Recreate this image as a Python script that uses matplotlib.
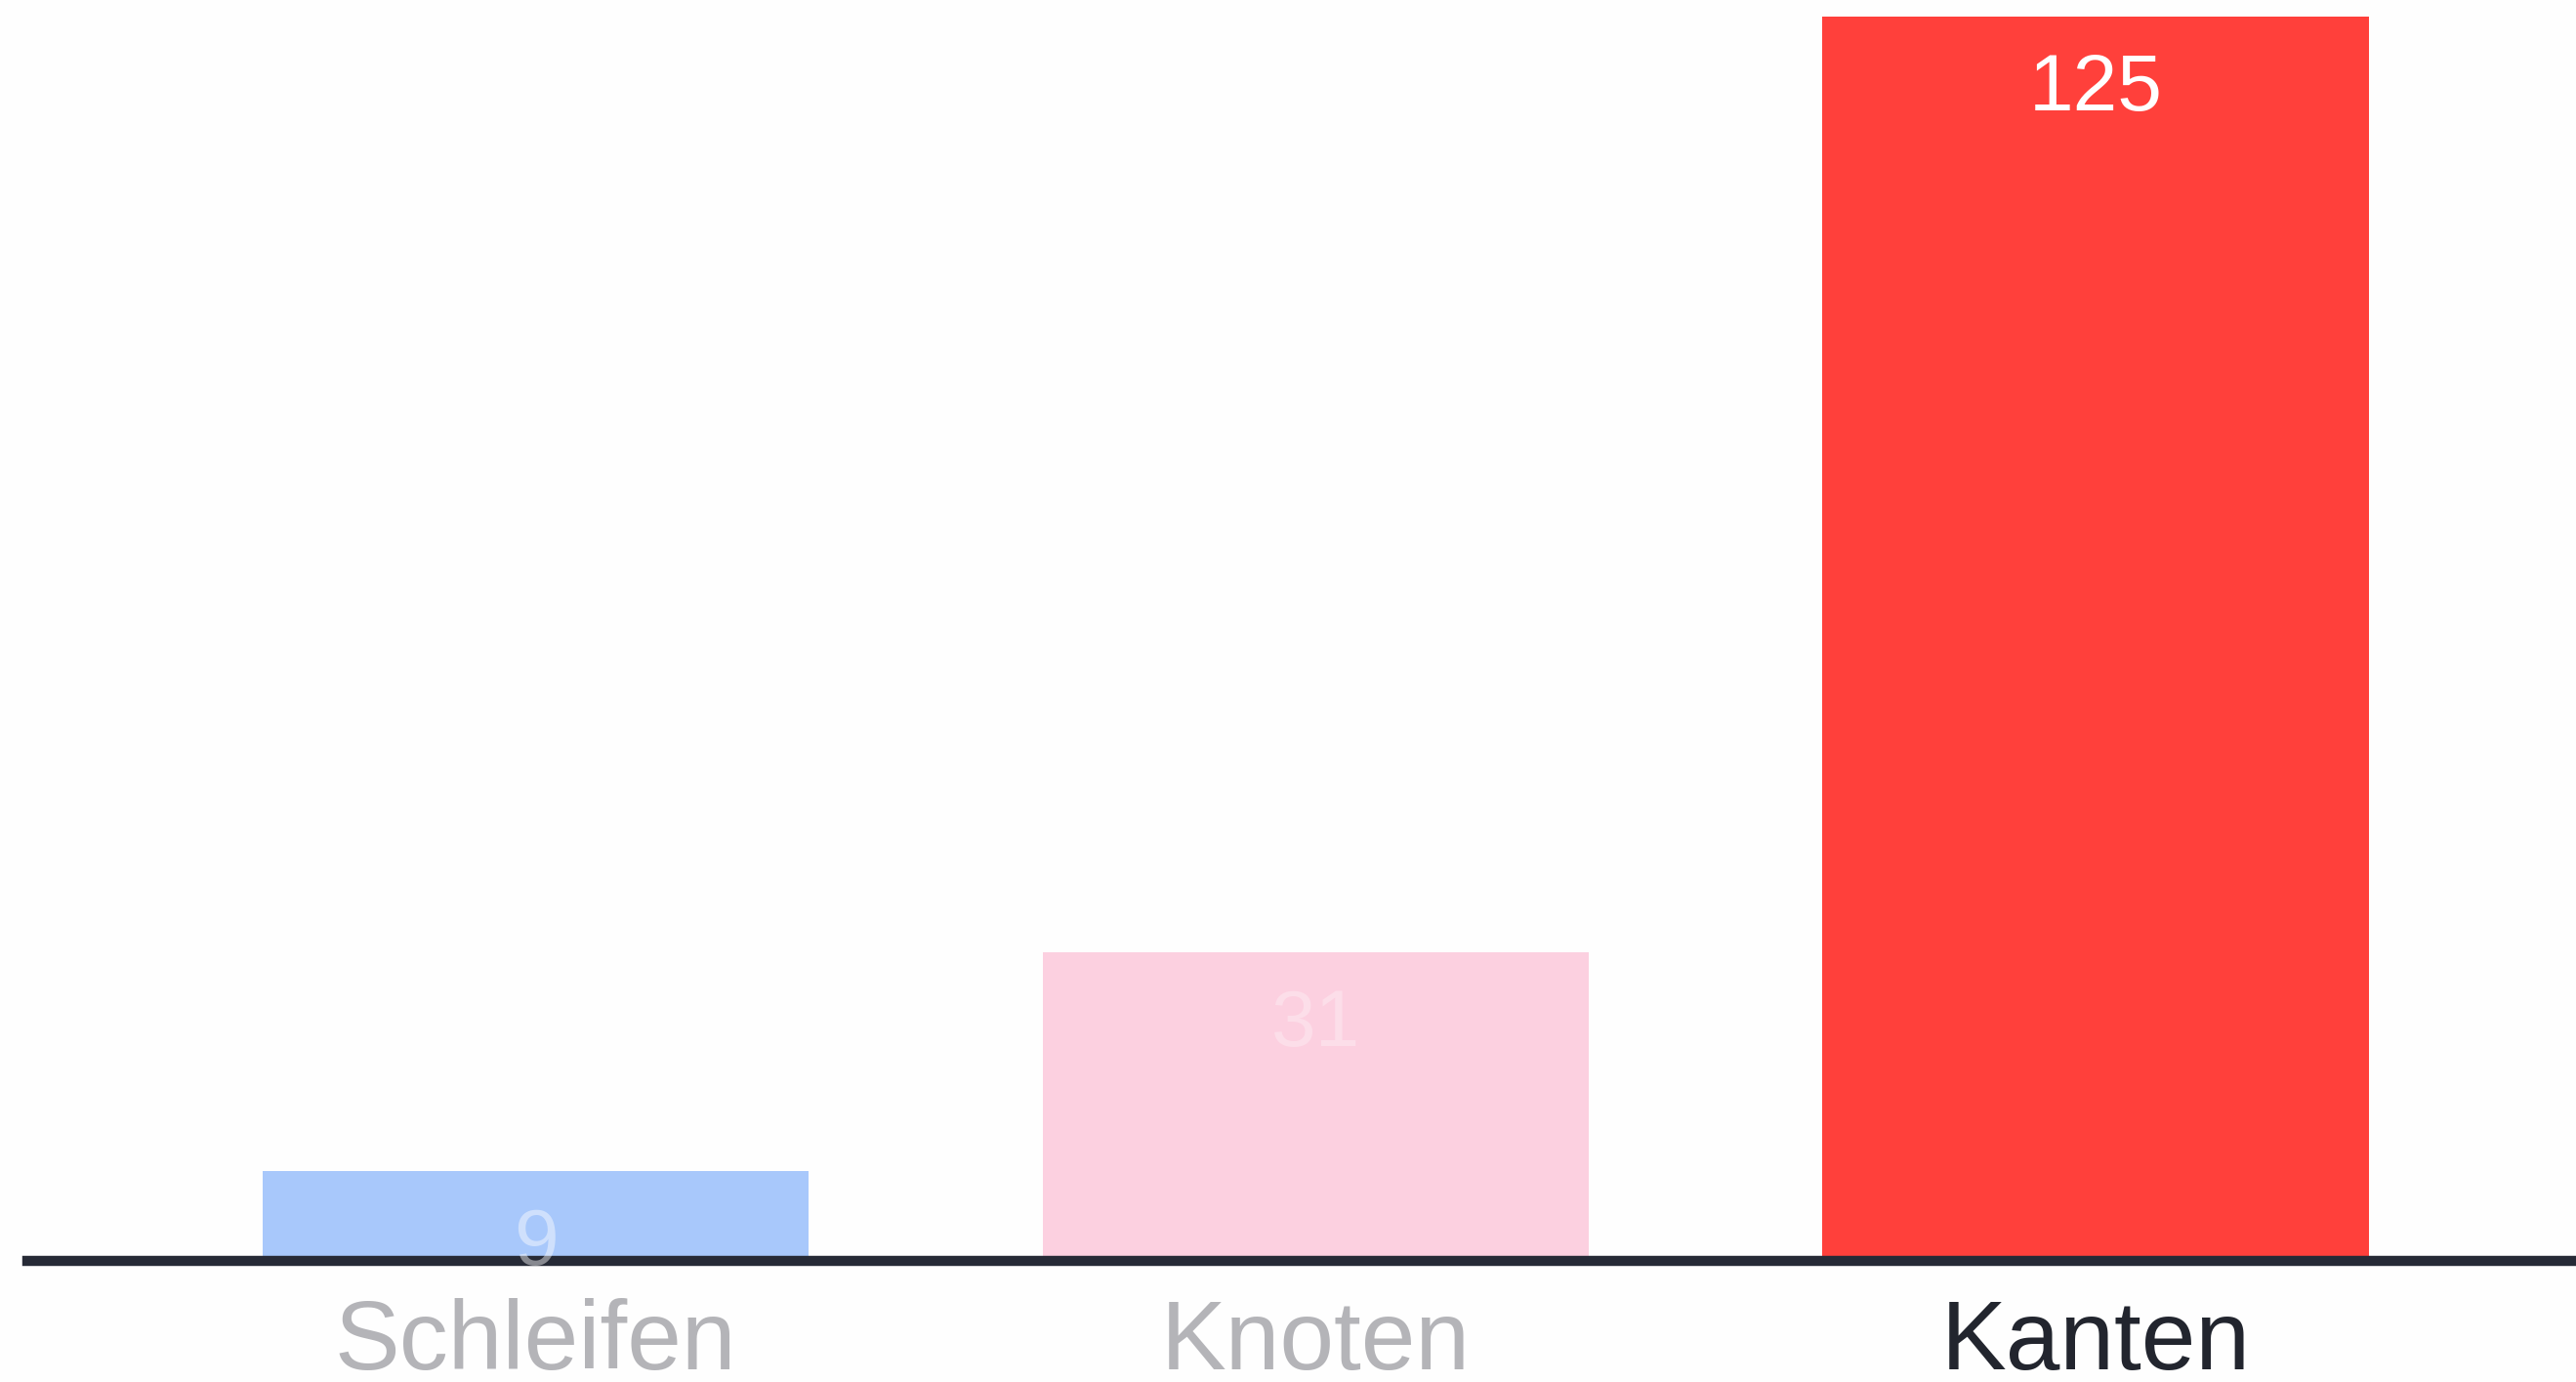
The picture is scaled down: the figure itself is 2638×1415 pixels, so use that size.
import matplotlib.pyplot as plt

# Daten
kategorien = ['Schleifen', 'Knoten', 'Kanten']
werte = [9, 31, 125]
balken_farben = ['#a8c8fb', '#fcd0e0', '#ff403b']
label_farben = ['#b4b4b8', '#b4b4b8', '#22252e']
wert_alpha = [0.45, 0.3, 1.0]

fig = plt.figure(figsize=(26.38, 14.15), dpi=100)
fig.patch.set_facecolor('#fefefe')
ax = fig.add_axes([0.0106, 0.0876, 0.9894, 0.9124])
ax.set_facecolor('#fefefe')

pos = list(range(len(werte)))
ax.bar(pos, werte, width=0.70, color=balken_farben, zorder=2)

ax.set_xlim(-0.652, 2.616)
ax.set_ylim(0, 126.7)

for s in ['top', 'right', 'left']:
    ax.spines[s].set_visible(False)
ax.spines['bottom'].set_color('#262a36')
ax.spines['bottom'].set_linewidth(7.5)
ax.spines['bottom'].set_zorder(3)
ax.set_xticks([])
ax.set_yticks([])

# Werte in den Balken
for i, w in enumerate(werte):
    ax.text(i, w - 9.4, str(w), ha='center', va='baseline', fontsize=59,
            family='Liberation Sans', color='white', alpha=wert_alpha[i], zorder=4)

# Kategorien unter der Achse
for i, k in enumerate(kategorien):
    ax.text(i, -10.9, k, ha='center', va='baseline', fontsize=72,
            family='Liberation Sans', color=label_farben[i], clip_on=False)

fig.savefig('out.png', dpi=100, facecolor=fig.get_facecolor())
